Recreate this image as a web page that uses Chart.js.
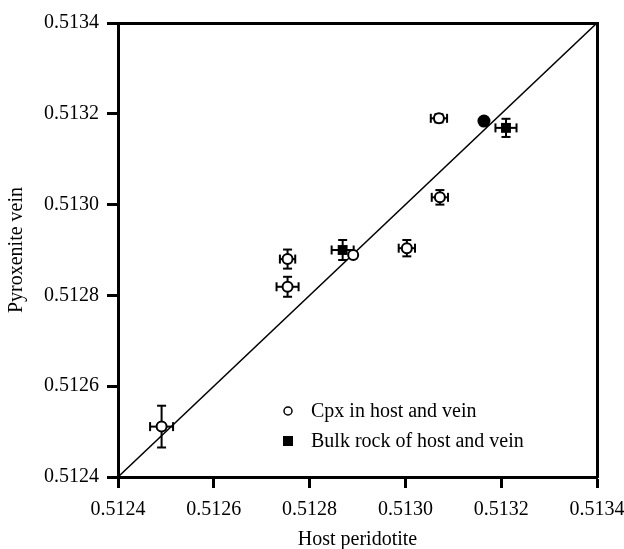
<!DOCTYPE html>
<html><head><meta charset="utf-8">
<script src="https://cdn.jsdelivr.net/npm/chart.js@4/dist/chart.umd.min.js"></script>
<style>html,body{margin:0;padding:0;background:#fff}canvas{display:block}</style>
</head><body>
<canvas id="c" width="624" height="549"></canvas>
<script>
// ---- data ----
const axisTicks = [0.5124, 0.5126, 0.5128, 0.5130, 0.5132, 0.5134];
const axisMin = 0.5124, axisMax = 0.5134;
const xTitle = 'Host peridotite';
const yTitle = 'Pyroxenite vein';

const cpxLabel = 'Cpx in host and vein';
const cpxX    = [0.513070, 0.513072, 0.513003, 0.512891, 0.512754, 0.512754, 0.512491];
const cpxY    = [0.513190, 0.513016, 0.512904, 0.512889, 0.512880, 0.512819, 0.512511];
const cpxXErr = [0.000017, 0.000017, 0.000017, 0.000000, 0.000016, 0.000023, 0.000024];
const cpxYErr = [0.000009, 0.000016, 0.000018, 0.000000, 0.000021, 0.000022, 0.000046];

const bulkLabel = 'Bulk rock of host and vein';
const bulkX    = [0.513210, 0.512869];
const bulkY    = [0.513169, 0.512900];
const bulkXErr = [0.000022, 0.000023];
const bulkYErr = [0.000020, 0.000022];

const dotX = [0.513164];
const dotY = [0.513184];

const diagX = [0.5124, 0.5134];
const diagY = [0.5124, 0.5134];

// ---- helpers ----
const pts = (xs, ys) => xs.map((v, i) => ({x: v, y: ys[i]}));
const FONT = '"Liberation Serif", "Times New Roman", serif';

const errorBars = {
  id: 'errorBars',
  beforeDatasetsDraw(chart) {
    const {ctx} = chart; const x = chart.scales.x, y = chart.scales.y;
    const cap = 4.5;
    ctx.save(); ctx.strokeStyle = '#000'; ctx.lineWidth = 2;
    const seg = (a, b, c, d) => { ctx.beginPath(); ctx.moveTo(a, b); ctx.lineTo(c, d); ctx.stroke(); };
    chart.data.datasets.forEach(ds => {
      if (!ds.xErr) return;
      ds.data.forEach((p, i) => {
        const px = x.getPixelForValue(p.x), py = y.getPixelForValue(p.y);
        const ex = ds.xErr[i], ey = ds.yErr[i];
        if (ex > 0) {
          const l = x.getPixelForValue(p.x - ex), r = x.getPixelForValue(p.x + ex);
          seg(l, py, r, py); seg(l, py - cap, l, py + cap); seg(r, py - cap, r, py + cap);
        }
        if (ey > 0) {
          const t = y.getPixelForValue(p.y + ey), b = y.getPixelForValue(p.y - ey);
          seg(px, t, px, b); seg(px - cap, t, px + cap, t); seg(px - cap, b, px + cap, b);
        }
      });
    });
    ctx.restore();
  }
};

const innerLegend = {
  id: 'innerLegend',
  afterDatasetsDraw(chart) {
    const {ctx, chartArea} = chart;
    const items = chart.data.datasets.filter(d => d.inLegend);
    const x0 = chartArea.left + 170, y0 = chartArea.bottom - 66, gap = 30;
    ctx.save();
    ctx.font = '20px ' + FONT; ctx.fillStyle = '#000'; ctx.textBaseline = 'middle'; ctx.textAlign = 'left';
    items.forEach((d, i) => {
      const cy = y0 + i * gap;
      if (d.pointStyle === 'rect') {
        ctx.fillStyle = '#000'; ctx.fillRect(x0 - 5, cy - 5, 10, 10);
      } else {
        ctx.beginPath(); ctx.arc(x0, cy, 4, 0, Math.PI * 2);
        ctx.fillStyle = '#fff'; ctx.fill(); ctx.lineWidth = 1.5; ctx.strokeStyle = '#000'; ctx.stroke();
      }
      ctx.fillStyle = '#000';
      ctx.fillText(d.label, x0 + 23, cy + 1);
    });
    ctx.restore();
  }
};

const tickFont = {family: FONT, size: 20};
const mainAxis = (pos, title, padTitle, tickPad) => ({
  type: 'linear', position: pos, min: axisMin, max: axisMax,
  afterBuildTicks: s => { s.ticks = axisTicks.map(v => ({value: v})); },
  ticks: {color: '#000', font: tickFont, padding: tickPad, maxRotation: 0, autoSkip: false,
          callback: v => Number(v).toFixed(4)},
  grid: {drawOnChartArea: false, drawTicks: true, tickLength: 11, tickWidth: 3, color: '#000'},
  border: {display: true, width: 3, color: '#000'},
  title: {display: true, text: title, color: '#000', font: {family: FONT, size: 20, lineHeight: 0.9}, padding: padTitle}
});

const xAxis = mainAxis('bottom', xTitle, {top: 0, bottom: 0}, 10);
xAxis.afterFit = s => { s.height = 72; s.paddingRight = 20; s.paddingLeft = 20; };
const yAxis = mainAxis('left', yTitle, {top: 8, bottom: 0}, 8);
yAxis.afterFit = s => { s.width = 118; s.paddingTop = 10; s.paddingBottom = 10; };

const frameAxis = (pos, fit) => ({
  type: 'linear', position: pos, min: axisMin, max: axisMax,
  ticks: {display: false},
  grid: {drawOnChartArea: false, drawTicks: false},
  border: {display: true, width: 3, color: '#000'},
  afterFit: fit
});

new Chart(document.getElementById('c'), {
  data: {
    datasets: [
      {type: 'scatter', label: cpxLabel, inLegend: true, data: pts(cpxX, cpxY), xErr: cpxXErr, yErr: cpxYErr,
       pointStyle: 'circle', pointRadius: 5, backgroundColor: '#fff', borderColor: '#000', borderWidth: 2},
      {type: 'scatter', label: bulkLabel, inLegend: true, data: pts(bulkX, bulkY), xErr: bulkXErr, yErr: bulkYErr,
       pointStyle: 'rect', pointRadius: 7, backgroundColor: '#000', borderColor: '#000', borderWidth: 0},
      {type: 'scatter', label: 'overlap', data: pts(dotX, dotY),
       pointStyle: 'circle', pointRadius: 6.5, backgroundColor: '#000', borderColor: '#000', borderWidth: 0},
      {type: 'line', label: '1:1', data: pts(diagX, diagY), borderColor: '#000', borderWidth: 1.5,
       pointRadius: 0, fill: false, tension: 0}
    ]
  },
  options: {
    responsive: false, animation: false, events: [],
    layout: {padding: 0},
    plugins: {legend: {display: false}, tooltip: {enabled: false}},
    scales: {
      x: xAxis, y: yAxis,
      x2: frameAxis('top', s => { s.height = 23; }),
      y2: frameAxis('right', s => { s.width = 27; })
    }
  },
  plugins: [errorBars, innerLegend]
});
</script>
</body></html>
